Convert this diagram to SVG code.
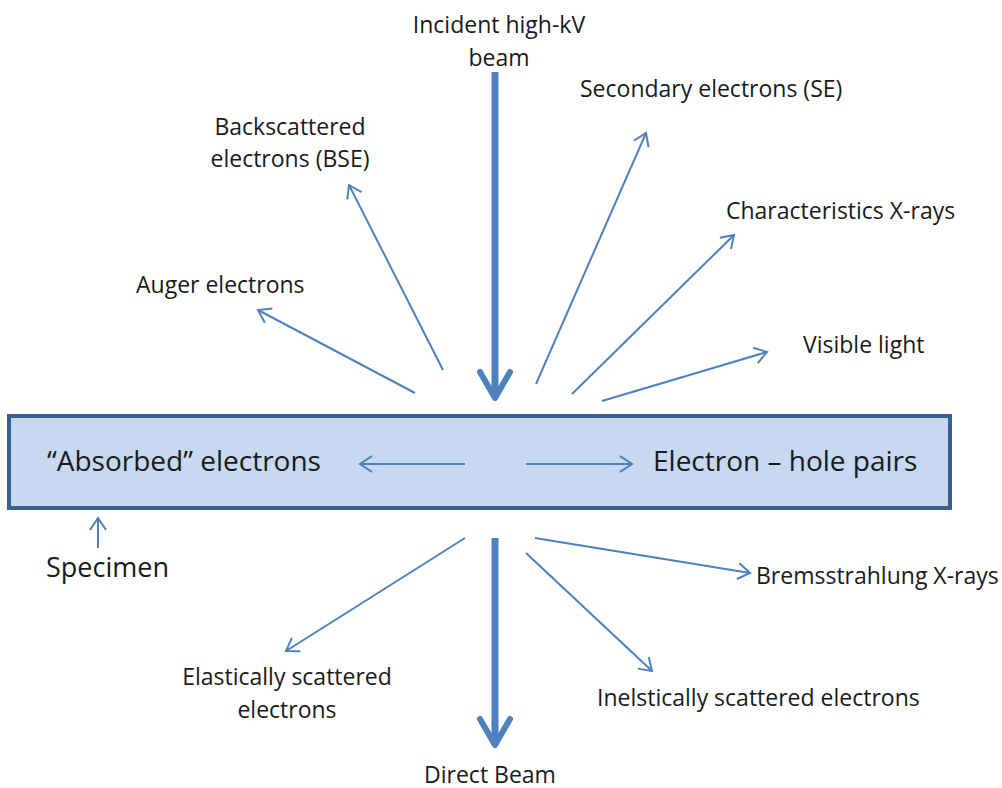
<svg xmlns="http://www.w3.org/2000/svg" width="1002" height="788" viewBox="0 0 1002 788">
<defs>
<style>
.t{font-family:"Open Sans","Liberation Sans",sans-serif;font-size:23px;fill:#1a1a1a}
.big{font-size:28px}
.mid{font-size:27px}
.thin{stroke:#4f81bd;stroke-width:2;fill:none}
.thick{stroke:#4f81bd;stroke-width:7;fill:none}
</style>
<marker id="ah" viewBox="0 0 20 20" refX="18" refY="10" markerWidth="20" markerHeight="20" markerUnits="userSpaceOnUse" orient="auto">
<path d="M6,2 L18,10 L6,18" fill="none" stroke="#4f81bd" stroke-width="2"/>
</marker>
<marker id="ahb" viewBox="0 0 40 40" refX="36" refY="20" markerWidth="40" markerHeight="40" markerUnits="userSpaceOnUse" orient="auto">
<path d="M10,5 L36,20 L10,35" fill="none" stroke="#4f81bd" stroke-width="6" stroke-linecap="round" stroke-linejoin="round"/>
</marker>
</defs>
<rect width="1002" height="788" fill="#fff"/>
<g id="specimen">
<rect x="9" y="416" width="941" height="92" fill="#c6d9f1" stroke="#3b608f" stroke-width="4"/>
<text class="t big" x="47" y="471">“Absorbed” electrons</text>
<text class="t big" x="653" y="471">Electron – hole pairs</text>
</g>
<g id="labels">
<text class="t" x="499" y="33" text-anchor="middle">Incident high-kV</text>
<text class="t" x="499" y="66" text-anchor="middle">beam</text>
<text class="t" x="580" y="97">Secondary electrons (SE)</text>
<text class="t" x="290" y="135" text-anchor="middle">Backscattered</text>
<text class="t" x="290" y="167" text-anchor="middle">electrons (BSE)</text>
<text class="t" x="726" y="219">Characteristics X-rays</text>
<text class="t" x="136" y="293">Auger electrons</text>
<text class="t" x="803" y="353">Visible light</text>
<text class="t mid" x="46" y="577">Specimen</text>
<text class="t" x="756" y="584">Bremsstrahlung X-rays</text>
<text class="t" x="287" y="685" text-anchor="middle">Elastically scattered</text>
<text class="t" x="287" y="718" text-anchor="middle">electrons</text>
<text class="t" x="597" y="706">Inelstically scattered electrons</text>
<text class="t" x="490" y="783" text-anchor="middle">Direct Beam</text>
</g>
<g id="connectors">
<line class="thick" x1="495" y1="72" x2="495" y2="398" marker-end="url(#ahb)"/>
<line class="thick" x1="495" y1="538" x2="495" y2="745" marker-end="url(#ahb)"/>
<line class="thin" x1="415" y1="393" x2="258" y2="310" marker-end="url(#ah)"/>
<line class="thin" x1="443" y1="370" x2="349" y2="185" marker-end="url(#ah)"/>
<line class="thin" x1="536" y1="384" x2="646" y2="133" marker-end="url(#ah)"/>
<line class="thin" x1="572" y1="394" x2="734" y2="235" marker-end="url(#ah)"/>
<line class="thin" x1="602" y1="401" x2="767" y2="352" marker-end="url(#ah)"/>
<line class="thin" x1="465" y1="464" x2="360" y2="464" marker-end="url(#ah)"/>
<line class="thin" x1="526" y1="464" x2="632" y2="464" marker-end="url(#ah)"/>
<line class="thin" x1="98" y1="548" x2="98" y2="518" marker-end="url(#ah)"/>
<line class="thin" x1="465" y1="538" x2="286" y2="651" marker-end="url(#ah)"/>
<line class="thin" x1="535" y1="538" x2="750" y2="573" marker-end="url(#ah)"/>
<line class="thin" x1="526" y1="553" x2="652" y2="671" marker-end="url(#ah)"/>
</g>
</svg>
